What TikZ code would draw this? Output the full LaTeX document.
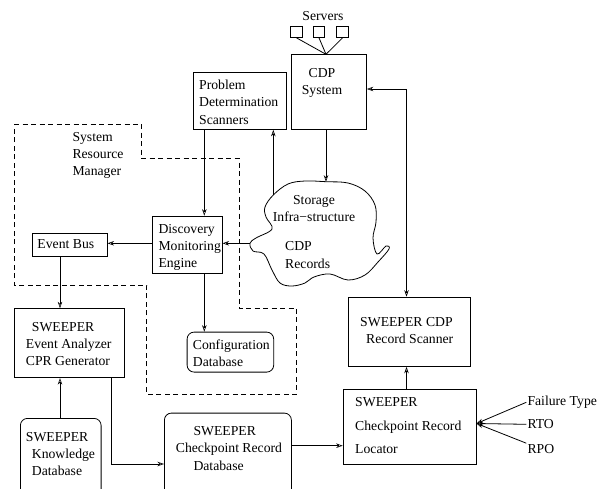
\documentclass[tikz,border=0pt]{standalone}
\usepackage{fontspec}
\setmainfont{Liberation Serif}
\usetikzlibrary{arrows.meta,calc}
\newcommand\fs{\fontsize{13.7}{17.3}\selectfont}
\tikzset{
  lw/.style={line width=0.8pt},
  box/.style={draw, lw, inner sep=0pt, anchor=north west},
  rbox/.style={box, rounded corners=7pt},
  sq/.style={draw, lw, inner sep=0pt, minimum size=11.5pt},
  txt/.style={font=\fs, align=left, inner sep=0pt, anchor=west},
  ctxt/.style={font=\fs, align=center, inner sep=0pt},
  arr/.style={lw, -{Stealth[open, length=6.5pt, width=4.5pt, inset=2pt, line width=0.6pt]}},
  darr/.style={lw, {Stealth[open, length=6.5pt, width=4.5pt, inset=2pt, line width=0.6pt]}-{Stealth[open, length=6.5pt, width=4.5pt, inset=2pt, line width=0.6pt]}},
  srm/.style={lw, dash pattern=on 5pt off 3.5pt}
}
\begin{document}
\begin{tikzpicture}[x=1pt,y=-1pt]
\useasboundingbox (0,0) rectangle (600,488);
\clip (0,0) rectangle (600,488);

% column / row helpers
\coordinate (c60) at (60,0);
\coordinate (c112) at (111.7,0);
\coordinate (c204) at (204.3,0);
\coordinate (c273) at (273.3,0);
\coordinate (c326) at (326,0);
\coordinate (c406) at (406.5,0);
\coordinate (r89) at (0,89);
\coordinate (r243) at (0,243.3);
\coordinate (r446) at (0,445.7);
\coordinate (r464) at (0,464);

% dashed System Resource Manager
\draw[srm] (14,124) -- (141.3,124) -- (141.3,158.3) -- (239,158.3) -- (239,308.3)
  -- (296.7,308.3) -- (296.7,394.3) -- (146.7,394.3) -- (146.7,285) -- (14,285) -- cycle;
\node[txt] (srmt) at (72.3,155.5) {System\\Resource\\Manager};

% servers
\node[ctxt] (servers) at (323,16) {Servers};
\node[sq] (s1) at (296.5,31.7) {};
\node[sq] (s2) at (319,31.7) {};
\node[sq] (s3) at (342.5,31.7) {};

% boxes
\node[box, minimum width=75.3pt, minimum height=75pt] (cdp) at (290.7,54.3) {};
\node[ctxt] (cdpt) at (322,83) {CDP\\System};
\coordinate (cdptop) at (326,54.3);
\draw[lw] (s1.south) -- (cdptop);
\draw[lw] (s2.south) -- (cdptop);
\draw[lw] (s3.south) -- (cdptop);

\node[box, minimum width=93pt, minimum height=57.3pt] (pds) at (192.7,71.7) {};
\node[txt] (pdst) at (199,102.2) {Problem\\Determination\\Scanners};

\node[box, minimum width=69.4pt, minimum height=57.6pt] (disc) at (152.3,215.7) {};
\node[txt] (disct) at (158.3,247.5) {Discovery\\Monitoring\\Engine};

\node[box, minimum width=75pt, minimum height=22.4pt] (bus) at (31.7,233.3) {};
\node[txt] (bust) at (37.3,244.3) {Event Bus};

\node[box, minimum width=110pt, minimum height=69pt] (ea) at (14,308.3) {};
\node[txt] (eat) at (25.7,344.2) {\hspace*{6pt}SWEEPER\\Event Analyzer\\CPR Generator};

\node[rbox, minimum width=86.6pt, minimum height=40pt] (conf) at (186.7,331.7) {};
\node[txt] (conft) at (192.7,353.3) {Configuration\\Database};

\node[rbox, minimum width=80.7pt, minimum height=100pt] (know) at (20,418) {};
\node[txt] (knowt) at (25.7,454.2) {SWEEPER\\\hspace*{6pt}Knowledge\\\hspace*{6pt}Database};

\node[rbox, minimum width=127pt, minimum height=100pt] (cdb) at (164,412.7) {};
\node[txt] (cdbt) at (175.7,448.3) {\hspace*{17.6pt}SWEEPER\\Checkpoint Record\\\hspace*{17.6pt}Database};

\node[box, minimum width=133pt, minimum height=75pt] (loc) at (342.7,389) {};
\node[txt, font=\fontsize{13.7}{23.3}\selectfont] (loct) at (355,425.7) {SWEEPER\\Checkpoint Record\\Locator};

\node[box, minimum width=121.7pt, minimum height=69.3pt] (scan) at (348.3,296.7) {};
\node[txt] (scant) at (360,330.3) {SWEEPER CDP\\\hspace*{6pt}Record Scanner};

% cloud
\draw[lw] plot[smooth cycle, tension=0.6] coordinates {
 (273.3,195) (288,184) (305,181) (326,181.7) (348,183) (365,191) (375,205)
 (376,222) (373,238) (377,254) (386,246) (389,249) (378,262) (365,275)
 (348,280) (330,274) (314,277) (305,283) (292,286) (280,283) (272,270)
 (264,254) (253,251) (250,243.3) (256,238) (272,229) (266,217) (265,207)};
\coordinate (cloudpds) at (273.3,195);
\coordinate (cloudtop) at (326,181.7);
\coordinate (cloudleft) at (250,243.3);
\node[ctxt] (cloudt1) at (314,208.8) {Storage\\Infra−structure};
\node[txt] (cloudt2) at (285,255) {CDP\\Records};

% inputs
\node[txt, inner sep=1pt] (ft) at (526.3,402.3) {Failure Type};
\node[txt, inner sep=1pt] (rto) at (526.3,424.3) {RTO};
\node[txt, inner sep=1pt] (rpo) at (526.3,449) {RPO};
\coordinate (conv) at (476.5,423.5);

% connectors
\draw[arr] (cdp.south -| c326) -- (cloudtop);
\draw[arr] (cloudpds) -- (pds.south -| c273);
\draw[darr] (cdp.east |- r89) -- (c406 |- r89) -- (scan.north -| c406);
\draw[arr] (pds.south -| c204) -- (disc.north -| c204);
\draw[arr] (cloudleft) -- (disc.east |- r243);
\draw[arr] (disc.west |- r243) -- (bus.east |- r243);
\draw[arr] (bus.south -| c60) -- (ea.north -| c60);
\draw[arr] (disc.south -| c204) -- (conf.north -| c204);
\draw[arr] (know.north -| c60) -- (ea.south -| c60);
\draw[arr] (ea.south -| c112) -- (c112 |- r464) -- (cdb.west |- r464);
\draw[arr] (cdb.east |- r446) -- (loc.west |- r446);
\draw[arr] (loc.north -| c406) -- (scan.south -| c406);
\draw[arr] (ft.west) -- (conv);
\draw[arr] (rto.west) -- (conv);
\draw[arr] (rpo.north west) -- (conv);
\end{tikzpicture}
\end{document}
